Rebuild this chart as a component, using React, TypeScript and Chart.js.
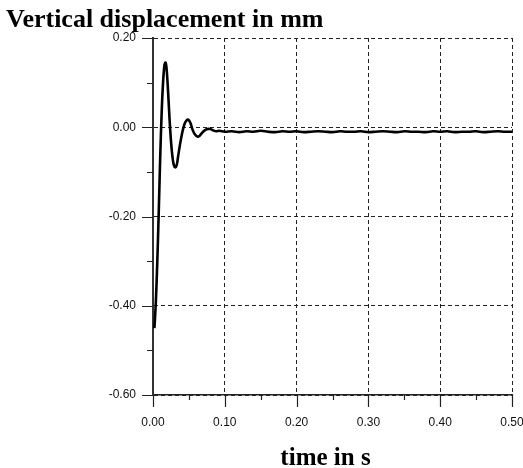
import React, { useEffect, useRef } from "react";
import { Chart, registerables } from "chart.js";

Chart.register(...registerables);

const TITLE = "Vertical displacement in mm";
const X_TITLE = "time in s";

const timeS: number[] = [
  0.002, 0.004, 0.006, 0.008, 0.010, 0.012, 0.014, 0.016, 0.0175, 0.019,
  0.021, 0.023, 0.025, 0.027, 0.029, 0.031, 0.033, 0.035, 0.038, 0.041,
  0.044, 0.047, 0.049, 0.052, 0.055, 0.058, 0.062, 0.065, 0.068, 0.072,
  0.076, 0.080, 0.084, 0.088, 0.092, 0.10, 0.11, 0.12, 0.13, 0.14,
  0.15, 0.16, 0.17, 0.18, 0.19, 0.20, 0.21, 0.22, 0.23, 0.24,
  0.25, 0.26, 0.27, 0.28, 0.29, 0.30, 0.31, 0.32, 0.33, 0.34,
  0.35, 0.36, 0.37, 0.38, 0.39, 0.40, 0.41, 0.42, 0.43, 0.44,
  0.45, 0.46, 0.47, 0.48, 0.49, 0.50,
];

const displacementMm: number[] = [
  -0.45, -0.39, -0.30, -0.19, -0.07, 0.03, 0.10, 0.14, 0.145, 0.13,
  0.08, 0.02, -0.03, -0.065, -0.085, -0.09, -0.085, -0.065, -0.035, -0.01,
  0.008, 0.016, 0.017, 0.01, -0.005, -0.015, -0.021, -0.019, -0.013, -0.007,
  -0.004, -0.004, -0.007, -0.009, -0.008, -0.010, -0.009, -0.011, -0.009, -0.010,
  -0.008, -0.010, -0.011, -0.009, -0.010, -0.009, -0.011, -0.010, -0.009, -0.010,
  -0.011, -0.009, -0.010, -0.010, -0.009, -0.011, -0.010, -0.009, -0.010, -0.011,
  -0.009, -0.010, -0.010, -0.011, -0.009, -0.010, -0.009, -0.011, -0.010, -0.010,
  -0.009, -0.011, -0.010, -0.009, -0.010, -0.010,
];

const xMajorTicks: number[] = [0, 0.1, 0.2, 0.3, 0.4, 0.5];
const xMinorTicks: number[] = [0.05, 0.15, 0.25, 0.35, 0.45];
const yMajorTicks: number[] = [-0.6, -0.4, -0.2, 0, 0.2];
const yMinorTicks: number[] = [-0.5, -0.3, -0.1, 0.1];

const decorPlugin = {
  id: "decor",
  afterDraw(chart: any) {
    const { ctx, chartArea, scales } = chart;
    const xs = scales.x;
    const ys = scales.y;
    ctx.save();
    ctx.strokeStyle = "#222";
    ctx.lineWidth = 1.2;
    ctx.beginPath();
    xMajorTicks.forEach((v) => {
      const px = Math.round(xs.getPixelForValue(v)) + 0.5;
      ctx.moveTo(px, chartArea.bottom);
      ctx.lineTo(px, chartArea.bottom + 12);
    });
    xMinorTicks.forEach((v) => {
      const px = Math.round(xs.getPixelForValue(v)) + 0.5;
      ctx.moveTo(px, chartArea.bottom);
      ctx.lineTo(px, chartArea.bottom + 5);
    });
    yMajorTicks.forEach((v) => {
      const py = Math.round(ys.getPixelForValue(v)) + 0.5;
      ctx.moveTo(chartArea.left - 11, py);
      ctx.lineTo(chartArea.left, py);
    });
    yMinorTicks.forEach((v) => {
      const py = Math.round(ys.getPixelForValue(v)) + 0.5;
      ctx.moveTo(chartArea.left - 6, py);
      ctx.lineTo(chartArea.left, py);
    });
    ctx.stroke();

    ctx.fillStyle = "#000";
    ctx.font = "bold 26px 'Liberation Serif', 'Times New Roman', serif";
    ctx.textAlign = "left";
    ctx.textBaseline = "alphabetic";
    ctx.fillText(TITLE, 6, 27);
    ctx.font = "bold 25px 'Liberation Serif', 'Times New Roman', serif";
    ctx.textAlign = "center";
    ctx.fillText(X_TITLE, (chartArea.left + chartArea.right) / 2 - 7, 465);
    ctx.restore();
  },
};

const zeroPad = (s: any) => {
  s.paddingLeft = 0;
  s.paddingRight = 0;
  s.paddingTop = 0;
  s.paddingBottom = 0;
};

export default function App() {
  const ref = useRef<HTMLCanvasElement | null>(null);
  useEffect(() => {
    if (!ref.current) return;
    const chart = new Chart(ref.current, {
      type: "line",
      data: {
        datasets: [
          {
            data: timeS.map((t, i) => ({ x: t, y: displacementMm[i] })),
            borderColor: "#000",
            borderWidth: 2.6,
            pointRadius: 0,
            tension: 0.35,
            fill: false,
          },
        ],
      },
      options: {
        animation: false,
        responsive: false,
        maintainAspectRatio: false,
        layout: { padding: { left: 0, top: 38, right: 11, bottom: 0 } },
        plugins: { legend: { display: false }, title: { display: false }, tooltip: { enabled: false } },
        scales: {
          x: {
            type: "linear",
            min: 0,
            max: 0.5,
            afterFit: (s: any) => { s.height = 73; zeroPad(s); },
            ticks: {
              stepSize: 0.1,
              autoSkip: false,
              maxRotation: 0,
              padding: 20,
              color: "#111",
              font: { family: "'Liberation Sans', Arial, sans-serif", size: 12 },
              callback: (v: any) => Number(v).toFixed(2),
            },
            grid: { color: "#222", lineWidth: 1, drawTicks: false },
            border: { display: true, color: "#222", width: 1.5, dash: [4, 3] },
          },
          y: {
            type: "linear",
            min: -0.6,
            max: 0.2,
            afterFit: (s: any) => { s.width = 153; zeroPad(s); },
            ticks: {
              stepSize: 0.2,
              autoSkip: false,
              padding: 17,
              color: "#111",
              font: { family: "'Liberation Sans', Arial, sans-serif", size: 12 },
              callback: (v: any) => Number(v).toFixed(2),
            },
            grid: { color: "#222", lineWidth: 1, drawTicks: false },
            border: { display: true, color: "#333", width: 2, dash: [4, 3] },
          },
        },
      },
      plugins: [decorPlugin],
    });
    return () => chart.destroy();
  }, []);
  return (
    <div style={{ position: "absolute", left: 0, top: 0, width: 523, height: 468, background: "#fff" }}>
      <canvas ref={ref} width={523} height={468} style={{ display: "block" }} />
    </div>
  );
}
